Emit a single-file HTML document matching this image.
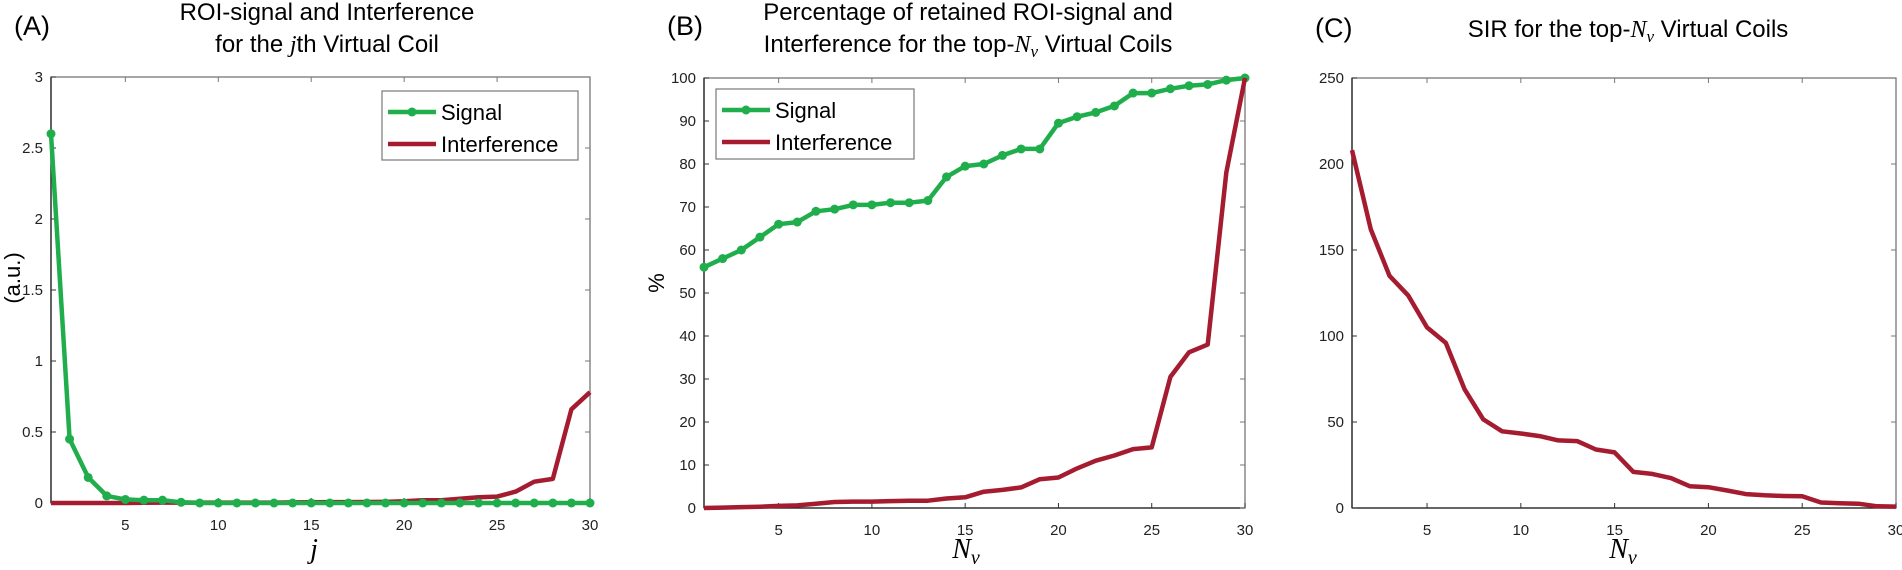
<!DOCTYPE html>
<html><head><meta charset="utf-8"><style>
html,body{margin:0;padding:0;background:#fff;}
svg{display:block;font-family:"Liberation Sans",sans-serif;}
</style></head><body>
<svg id="fig" width="1902" height="570" viewBox="0 0 1902 570" xmlns="http://www.w3.org/2000/svg">
<g id="labels">
<text x="14" y="35" font-size="27">(A)</text>
<text x="327" y="20" font-size="24" text-anchor="middle">ROI-signal and Interference</text>
<text x="327" y="52" font-size="24" text-anchor="middle">for the <tspan font-style="italic" font-family="Liberation Serif">j</tspan>th Virtual Coil</text>
<text x="667" y="35" font-size="27">(B)</text>
<text x="968" y="20" font-size="24" text-anchor="middle">Percentage of retained ROI-signal and</text>
<text x="968" y="52" font-size="24" text-anchor="middle">Interference for the top-<tspan font-style="italic" font-family="Liberation Serif">N</tspan><tspan font-style="italic" font-family="Liberation Serif" font-size="17" dy="5">ν</tspan><tspan dy="-5"> Virtual Coils</tspan></text>
<text x="1315" y="37" font-size="27">(C)</text>
<text x="1628" y="37" font-size="24" text-anchor="middle">SIR for the top-<tspan font-style="italic" font-family="Liberation Serif">N</tspan><tspan font-style="italic" font-family="Liberation Serif" font-size="17" dy="5">ν</tspan><tspan dy="-5"> Virtual Coils</tspan></text>
<text transform="translate(20,278) rotate(-90)" font-size="22" text-anchor="middle">(a.u.)</text>
<text x="314" y="558" font-size="28" font-style="italic" font-family="Liberation Serif" text-anchor="middle">j</text>
<text transform="translate(664,283) rotate(-90)" font-size="22" text-anchor="middle">%</text>
<text x="966" y="558" font-size="28" font-style="italic" font-family="Liberation Serif" text-anchor="middle">N<tspan font-size="20" dy="6">ν</tspan></text>
<text x="1623" y="558" font-size="28" font-style="italic" font-family="Liberation Serif" text-anchor="middle">N<tspan font-size="20" dy="6">ν</tspan></text>
</g>
</svg>
<script>
const xs = [1,2,3,4,5,6,7,8,9,10,11,12,13,14,15,16,17,18,19,20,21,22,23,24,25,26,27,28,29,30];
const xTicks = [5,10,15,20,25,30];
const aSignal = [2.6,0.45,0.18,0.05,0.025,0.02,0.02,0.005,0,0,0,0,0,0,0,0,0,0,0,0,0,0,0,0,0,0,0,0,0,0];
const aInterf = [0,0,0,0,0,0.002,0.003,0.003,0.003,0.003,0.003,0.003,0.003,0.004,0.005,0.006,0.006,0.007,0.008,0.012,0.02,0.02,0.03,0.04,0.045,0.08,0.15,0.17,0.66,0.78];
const aYTicks = [0,0.5,1,1.5,2,2.5,3];
const aYLabels = ["0","0.5","1","1.5","2","2.5","3"];
const bSignal = [56,58,60,63,66,66.5,69,69.5,70.5,70.5,71,71,71.5,77,79.5,80,82,83.5,83.5,89.5,91,92,93.5,96.5,96.5,97.5,98.2,98.5,99.5,100];
const bInterf = [0,0.1,0.2,0.3,0.5,0.6,1,1.4,1.5,1.5,1.6,1.7,1.7,2.2,2.5,3.8,4.2,4.8,6.7,7.1,9.2,11,12.2,13.7,14.1,30.5,36.2,38,78,100];
const bYTicks = [0,10,20,30,40,50,60,70,80,90,100];
const cSIR = [208,162,135,123.5,105,96,69,51.5,44.6,43.3,41.8,39.3,38.9,34,32.3,21,19.8,17.4,12.7,12.1,10.2,8.1,7.4,7,6.8,3.2,2.8,2.5,1,0.8];
const cYTicks = [0,50,100,150,200,250];

const NS = "http://www.w3.org/2000/svg";
const svg = document.getElementById('fig');
const GREEN = "#1fae4b", RED = "#a51c30";
function mk(tag, attrs, parent){const e=document.createElementNS(NS,tag);for(const k in attrs)e.setAttribute(k,attrs[k]);(parent||svg).appendChild(e);return e;}

function panel(id, L, R, T, B, ymax, yTicks, yLabels){
  const sx = v => L + (v-1)/(29)*(R-L);
  const sy = v => B - v/ymax*(B-T);
  const g = mk('g',{});
  
  
  const fr = mk('rect',{x:L,y:T,width:R-L,height:B-T,fill:'none',stroke:'#777','stroke-width':1.3},g);
  
  
  mk('line',{x1:L,y1:T,x2:L,y2:B,stroke:'#222','stroke-width':1.3},g);
  mk('line',{x1:L,y1:B,x2:R,y2:B,stroke:'#222','stroke-width':1.3},g);
  xTicks.forEach(t=>{
    const x=sx(t);
    mk('line',{x1:x,y1:B,x2:x,y2:B-5,stroke:'#333'},g);
    mk('line',{x1:x,y1:T,x2:x,y2:T+5,stroke:'#777'},g);
    const tx=mk('text',{x:x,y:B+27,'font-size':15,'text-anchor':'middle',fill:'#222'},g);
    tx.textContent=t;
    
    
  });
  yTicks.forEach((t,i)=>{
    const y=sy(t);
    mk('line',{x1:L,y1:y,x2:L+5,y2:y,stroke:'#333'},g);
    mk('line',{x1:R,y1:y,x2:R-5,y2:y,stroke:'#777'},g);
    const tx=mk('text',{x:L-8,y:y+5,'font-size':15,'text-anchor':'end',fill:'#222'},g);
    tx.textContent=yLabels?yLabels[i]:t;
    
    
  });
  return {sx,sy};
}
function line(ax, vals, color, name, markers){
  const pts = vals.map((v,i)=>ax.sx(xs[i]).toFixed(1)+','+ax.sy(v).toFixed(1)).join(' ');
  const p = mk('polyline',{points:pts,fill:'none',stroke:color,'stroke-width':4.5,'stroke-linejoin':'round'});
  
  
  if(markers){
    vals.forEach((v,i)=>{
      const c = mk('circle',{cx:ax.sx(xs[i]),cy:ax.sy(v),r:4.5,fill:color});
      
      
    });
  }
}
function legend(id, x, y, w, h){
  const g = mk('g',{});
  
  
  mk('rect',{x:x,y:y,width:w,height:h,fill:'#fff',stroke:'#777','stroke-width':1.2},g);
  mk('line',{x1:x+6,y1:y+21,x2:x+54,y2:y+21,stroke:GREEN,'stroke-width':4.5},g);
  mk('circle',{cx:x+30,cy:y+21,r:4.5,fill:GREEN},g);
  const t1=mk('text',{x:x+59,y:y+29,'font-size':22},g); t1.textContent='Signal';
  
  
  mk('line',{x1:x+6,y1:y+53,x2:x+54,y2:y+53,stroke:RED,'stroke-width':4.5},g);
  const t2=mk('text',{x:x+59,y:y+61,'font-size':22},g); t2.textContent='Interference';
  
  
}
const A = panel('panel-a', 51, 590, 77, 503, 3, aYTicks, aYLabels);
line(A, aInterf, RED, 'panel-a-interference-line', false);
line(A, aSignal, GREEN, 'panel-a-signal-line', true);
legend('panel-a', 382, 91, 196, 69);
const Bp = panel('panel-b', 704, 1245, 78, 508, 100, bYTicks);
line(Bp, bSignal, GREEN, 'panel-b-signal-line', true);
line(Bp, bInterf, RED, 'panel-b-interference-line', false);
legend('panel-b', 716, 89, 198, 70);
const C = panel('panel-c', 1352, 1896, 78, 508, 250, cYTicks);
line(C, cSIR, RED, 'panel-c-sir-line', false);
</script>
</body></html>
